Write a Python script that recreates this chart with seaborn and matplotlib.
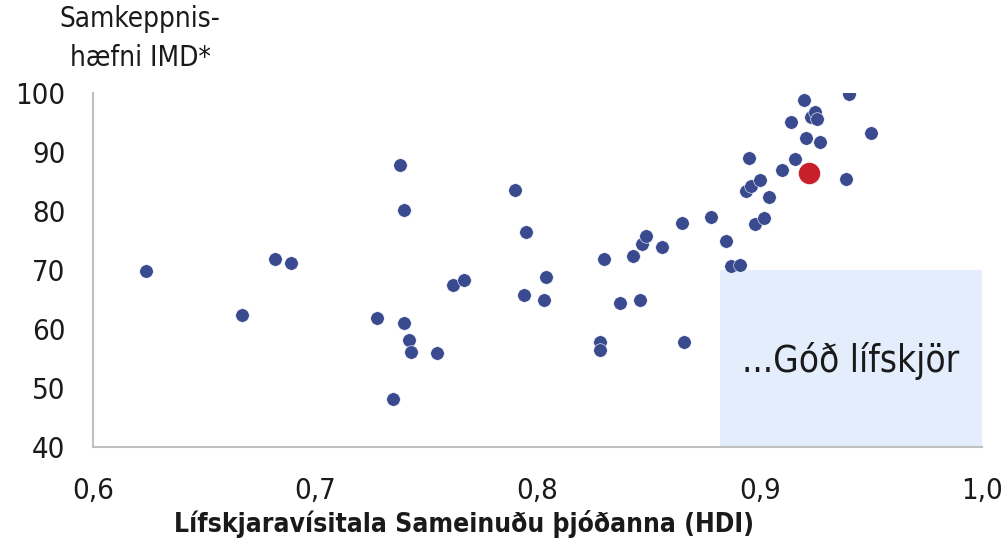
import matplotlib
matplotlib.use("Agg")
import matplotlib.pyplot as plt
import matplotlib.patches as patches
import seaborn as sb
import pandas as pd

# HDI (x) and IMD competitiveness score (y)
hdi = [0.624, 0.667, 0.682, 0.689, 0.728, 0.738, 0.740, 0.740, 0.742, 0.743,
       0.735, 0.755, 0.762, 0.767, 0.790, 0.795, 0.794, 0.803, 0.804, 0.828,
       0.828, 0.830, 0.837, 0.846, 0.843, 0.847, 0.849, 0.856, 0.865, 0.866,
       0.878, 0.885, 0.887, 0.891, 0.895, 0.894, 0.896, 0.900, 0.898, 0.902,
       0.904, 0.910, 0.916, 0.914, 0.920, 0.923, 0.925, 0.926, 0.921, 0.927,
       0.940, 0.950, 0.939]
imd = [69.8, 62.4, 71.9, 71.2, 61.9, 87.9, 80.2, 61.0, 58.1, 56.1,
       48.1, 55.9, 67.4, 68.3, 83.6, 76.5, 65.8, 64.9, 68.9, 57.8,
       56.5, 71.9, 64.4, 64.9, 72.3, 74.5, 75.8, 73.9, 77.9, 57.8,
       79.0, 74.9, 70.7, 70.8, 89.0, 83.4, 84.3, 85.2, 77.8, 78.9,
       82.4, 86.9, 88.8, 95.1, 98.9, 96.0, 96.8, 95.6, 92.4, 91.7,
       99.9, 93.2, 85.4]

# Iceland highlighted
iceland_hdi = [0.922]
iceland_imd = [86.5]

x_ticks = [0.6, 0.7, 0.8, 0.9, 1.0]
x_labels = ["0,6", "0,7", "0,8", "0,9", "1,0"]
y_ticks = [40, 50, 60, 70, 80, 90, 100]

sb.set_style("white")
plt.rcParams["font.family"] = ["DejaVu Sans"]
plt.rcParams["font.stretch"] = "condensed"

fig = plt.figure(figsize=(10.07, 5.39), dpi=100)
ax = fig.add_axes([0.0924, 0.171, 0.8826, 0.656])

# light blue "good living standards" box
ax.add_patch(patches.Rectangle((0.882, 40), 0.118, 30, facecolor="#e3edfc",
                               edgecolor="none", zorder=0))
ax.text(0.941, 54.5, "...Góð lífskjör", fontsize=26.5, ha="center", va="center",
        color="#1a1a1a")

df = pd.DataFrame({"hdi": hdi, "imd": imd})
sb.scatterplot(data=df, x="hdi", y="imd", color="#3a4a8f", s=95,
               edgecolor="white", linewidth=0.4, ax=ax, zorder=3)
sb.scatterplot(x=iceland_hdi, y=iceland_imd, color="#c71f2b", s=250,
               edgecolor="white", linewidth=0.4, ax=ax, zorder=4)

ax.set_xlim(0.6, 1.0)
ax.set_ylim(40, 100)
ax.set_xticks(x_ticks)
ax.set_xticklabels(x_labels)
ax.set_yticks(y_ticks)
ax.tick_params(axis="both", length=0, labelsize=21, colors="#1a1a1a")
ax.tick_params(axis="x", pad=22)
ax.tick_params(axis="y", pad=20)

for side in ["top", "right"]:
    ax.spines[side].set_visible(False)
for side in ["left", "bottom"]:
    ax.spines[side].set_color("#bfbfbf")
    ax.spines[side].set_linewidth(1.5)

ax.set_xlabel("Lífskjaravísitala Sameinuðu þjóðanna (HDI)", fontsize=19,
              fontweight="bold", color="#1a1a1a", labelpad=2)
ax.xaxis.set_label_coords(0.417, -0.217)
ax.xaxis.label.set_va("center")
ax.set_ylabel("")
fig.text(0.139, 0.928, "Samkeppnis-\nhæfni IMD*", fontsize=20, ha="center",
         va="center", color="#1a1a1a", linespacing=1.5)

fig.savefig("out.png", dpi=100)
